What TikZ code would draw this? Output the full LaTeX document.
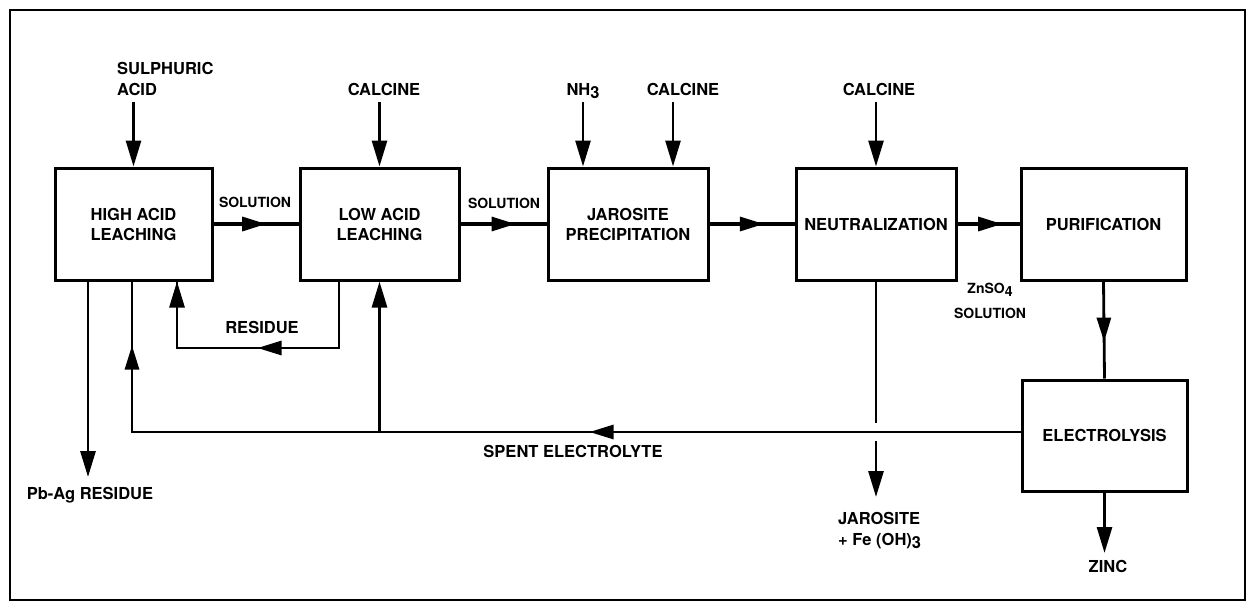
\documentclass[tikz,border=0pt]{standalone}
\usepackage{fontspec}
\setmainfont{TeX Gyre Heros}
\usetikzlibrary{arrows.meta,decorations.markings}
\newcommand{\lowsub}[1]{\raisebox{-3pt}{#1}}
\begin{document}
\begin{tikzpicture}[x=1pt,y=-1pt,
  box/.style={draw, line width=3pt, minimum height=112pt, inner sep=2pt, align=center,
    font=\fontsize{16.5}{20}\selectfont\bfseries},
  lbl/.style={inner sep=0pt, font=\fontsize{16.5}{21}\selectfont\bfseries},
  sml/.style={inner sep=0pt, font=\fontsize{14}{17}\selectfont\bfseries},
  ln/.style={line width=2.8pt},
  arr/.style={ln, -{Triangle[length=26pt,width=15pt]}},
  midarr/.style={ln, postaction={decorate}, decoration={markings,
     mark=at position #1 with {\arrow{Triangle[length=24pt,width=14pt]}}}},
  midarrb/.style={ln, postaction={decorate}, decoration={markings,
     mark=at position #1 with {\arrow{Triangle[length=24pt,width=14pt]}},
     mark=at position 1 with {\arrow{Triangle[length=26pt,width=15pt]}}}}
]
\useasboundingbox (0,0) rectangle (1249,603);
\draw[line width=2.5pt] (10,10) rectangle (1245,600);

% boxes
\node[box, minimum width=157pt] (hal) at (133.5,224) {HIGH ACID\\LEACHING};
\node[box, minimum width=159pt] (lal) at (379.5,224) {LOW ACID\\LEACHING};
\node[box, minimum width=160pt] (jp) at (628,224) {JAROSITE\\PRECIPITATION};
\node[box, minimum width=160pt] (neu) at (876,224) {NEUTRALIZATION};
\node[box, minimum width=165pt] (pur) at (1103.5,224) {PURIFICATION};
\node[box, minimum width=165pt, minimum height=111pt] (elec) at (1104.5,435.5) {ELECTROLYSIS};

% input labels
\node[lbl, anchor=west, align=left] (sulph) at (117,78.5) {SULPHURIC\\ACID};
\node[lbl, anchor=base] (cal1) at (384,95) {CALCINE};
\node[lbl, anchor=base] (nh3) at (583,95) {NH\lowsub{3}};
\node[lbl, anchor=base] (cal2) at (683,95) {CALCINE};
\node[lbl, anchor=base] (cal3) at (879,95) {CALCINE};

% input arrow starts
\coordinate (s1) at (133.5,102);
\coordinate (s2) at (379.5,102);
\coordinate (s3) at (583,102);
\coordinate (s4) at (673,102);
\coordinate (s5) at (876,102);
\draw[arr] (s1) -- (hal.north);
\draw[arr] (s2) -- (lal.north);
\draw[arr] (s3) -- (s3 |- jp.north);
\draw[arr] (s4) -- (s4 |- jp.north);
\draw[arr] (s5) -- (neu.north);

% main flow
\draw[midarr=0.62, line width=3.2pt] (hal.east) -- (lal.west);
\draw[midarr=0.64, line width=3.2pt] (lal.east) -- (jp.west);
\draw[midarr=0.64, line width=3.2pt] (jp.east) -- (neu.west);
\draw[midarr=0.72, line width=3.2pt] (neu.east) -- (pur.west);
\node[sml, anchor=base] (sol1) at (255,207) {SOLUTION};
\node[sml, anchor=base] (sol2) at (504,208) {SOLUTION};

% purification to electrolysis
\draw[midarr=0.62] (pur.south) -- (elec.north);
\node[sml, anchor=base] (znso) at (990,293) {ZnSO\lowsub{4}};
\node[sml, anchor=base] (sol3) at (990,318) {SOLUTION};

% electrolysis to zinc
\coordinate (zincEnd) at (1104.5,553);
\draw[arr] (elec.south) -- (zincEnd);
\node[lbl, anchor=base] (zinc) at (1108,572) {ZINC};

% Pb-Ag residue
\coordinate (pbEnd) at (88,477);
\draw[arr] (pbEnd |- hal.south) -- (pbEnd);
\node[lbl, anchor=base] (pbag) at (90,499) {Pb-Ag RESIDUE};

% residue return
\coordinate (r1) at (339,348);
\coordinate (r2) at (177,348);
\draw[midarrb=148pt, line join=miter] (r1 |- lal.south) -- (r1) -- (r2) -- (r2 |- hal.south);
\node[lbl, anchor=base] (resid) at (262,333) {RESIDUE};

% spent electrolyte
\coordinate (sp) at (132,432);
\draw[ln, line join=miter, postaction={decorate}, decoration={markings,
   mark=at position 431pt with {\arrow{Triangle[length=24pt,width=14pt]}},
   mark=at position 975pt with {\arrow{Triangle[length=24pt,width=14pt]}}}]
   (elec.west |- sp) -- (sp) -- (sp |- hal.south);
\draw[arr] (lal.south |- sp) -- (lal.south);
\node[lbl, anchor=base] (spent) at (573,457) {SPENT ELECTROLYTE};

% neutralization to jarosite
\coordinate (j1) at (876,423);
\coordinate (j2) at (876,441);
\coordinate (jEnd) at (876,497);
\draw[ln] (neu.south) -- (j1);
\draw[arr] (j2) -- (jEnd);
\node[lbl, anchor=west, align=left] (jar) at (838,531) {JAROSITE\\+ Fe (OH)\lowsub{3}};
\end{tikzpicture}
\end{document}
